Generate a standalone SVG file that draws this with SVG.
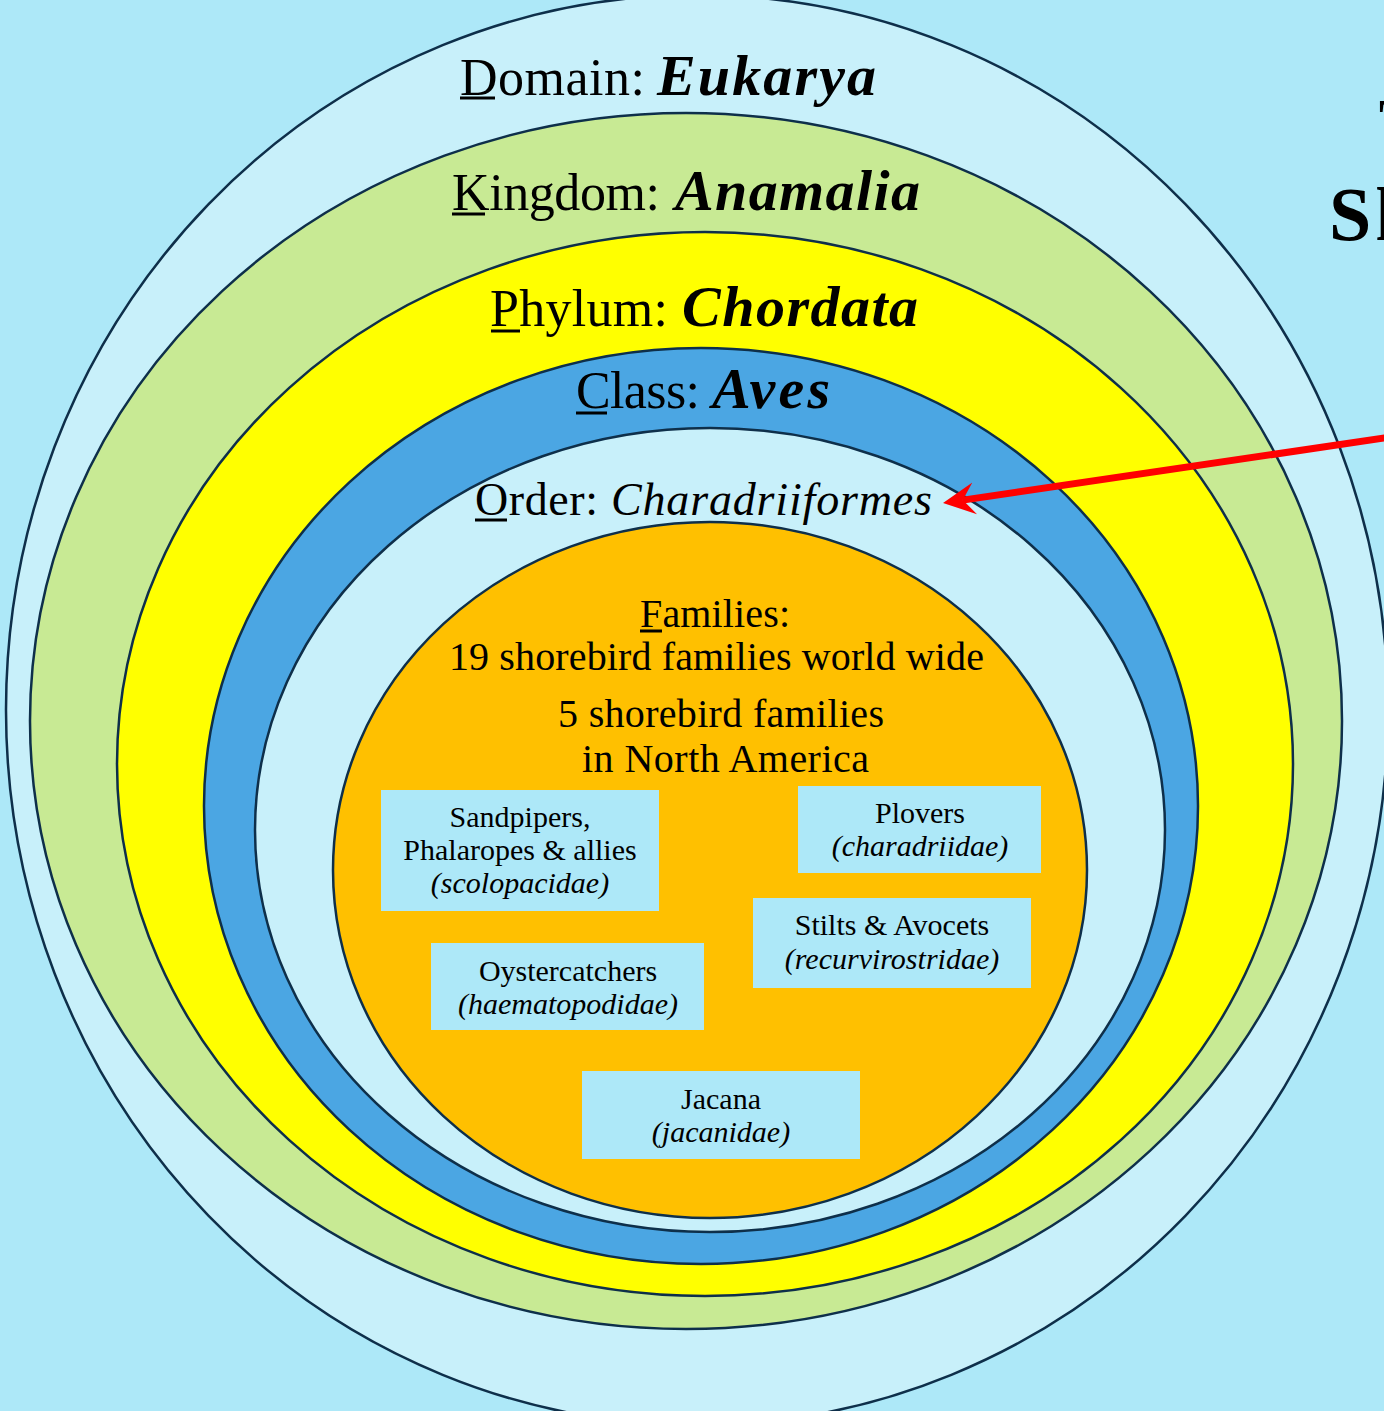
<svg xmlns="http://www.w3.org/2000/svg" width="1384" height="1411" viewBox="0 0 1384 1411">
<style>
.ring{stroke:#0E2F4A;stroke-width:2.5}
.t{font-family:"Liberation Serif","Times New Roman",serif;fill:#000}
.lab{font-size:52px}
.sci{font-size:58px;font-weight:bold;font-style:italic}
.fam{font-size:40px}
.box{fill:#ADE8F8}
.bt{font-family:"Liberation Serif","Times New Roman",serif;font-size:30px;text-anchor:middle;fill:#000}
.it{font-style:italic}
.ul{stroke:#000;stroke-width:3}
</style>
<defs>
<marker id="ah" markerUnits="userSpaceOnUse" markerWidth="34" markerHeight="34" viewBox="0 -17 34 34" refX="12" refY="0" orient="auto">
<path d="M0,-16 L32,0 L0,16 L12,0 Z" fill="#FF0000"/>
</marker>
</defs>
<rect x="0" y="0" width="1384" height="1411" fill="#ADE8F8"/>
<g id="domain">
<ellipse class="ring" cx="697" cy="710" rx="691" ry="715" fill="#C8F0FA"/>
<text class="t lab" x="460" y="95" textLength="185">Domain:</text>
<text class="t sci" x="657" y="95" textLength="219">Eukarya</text>
<line class="ul" x1="460" y1="98" x2="495" y2="98"/>
</g>
<g id="kingdom">
<ellipse class="ring" cx="686" cy="721" rx="656" ry="608" fill="#C8EA94"/>
<text class="t lab" x="452" y="210" textLength="208">Kingdom:</text>
<text class="t sci" x="675" y="210" textLength="245">Anamalia</text>
<line class="ul" x1="452" y1="214" x2="485" y2="214"/>
</g>
<g id="phylum">
<ellipse class="ring" cx="705" cy="764" rx="588" ry="532" fill="#FFFF00"/>
<text class="t lab" x="490" y="326" textLength="178">Phylum:</text>
<text class="t sci" x="682" y="326" textLength="236">Chordata</text>
<line class="ul" x1="491" y1="331" x2="520" y2="331"/>
</g>
<g id="class">
<ellipse class="ring" cx="701" cy="806" rx="497" ry="458" fill="#4BA6E3"/>
<text class="t lab" x="576" y="408" textLength="124">Class:</text>
<text class="t sci" x="712" y="408" textLength="118">Aves</text>
<line class="ul" x1="576" y1="413" x2="607" y2="413"/>
</g>
<g id="order">
<ellipse class="ring" cx="710" cy="830" rx="455" ry="402" fill="#C8F0FA"/>
<text class="t" x="475" y="515" font-size="46" textLength="123">Order:</text>
<text class="t it" x="611" y="515" font-size="46" textLength="321">Charadriiformes</text>
<line class="ul" x1="475" y1="520" x2="507" y2="520"/>
</g>
<g id="families">
<ellipse class="ring" cx="710" cy="870" rx="377" ry="348" fill="#FFC000"/>
<text class="t fam" x="640" y="627" textLength="150">Families:</text>
<line class="ul" x1="640" y1="631" x2="662" y2="631"/>
<text class="t fam" x="449" y="670" textLength="535">19 shorebird families world wide</text>
<text class="t fam" x="558" y="727" textLength="326">5 shorebird families</text>
<text class="t fam" x="582" y="772" textLength="287">in North America</text>
</g>
<g id="sandpipers">
<rect class="box" x="381" y="790" width="278" height="121"/>
<text class="bt" x="520" y="827">Sandpipers,</text>
<text class="bt" x="520" y="860">Phalaropes &amp; allies</text>
<text class="bt it" x="520" y="893">(scolopacidae)</text>
</g>
<g id="plovers">
<rect class="box" x="798" y="786" width="243" height="87"/>
<text class="bt" x="920" y="823">Plovers</text>
<text class="bt it" x="920" y="856">(charadriidae)</text>
</g>
<g id="stilts">
<rect class="box" x="753" y="898" width="278" height="90"/>
<text class="bt" x="892" y="935">Stilts &amp; Avocets</text>
<text class="bt it" x="892" y="969">(recurvirostridae)</text>
</g>
<g id="oystercatchers">
<rect class="box" x="431" y="943" width="273" height="87"/>
<text class="bt" x="568" y="981">Oystercatchers</text>
<text class="bt it" x="568" y="1014">(haematopodidae)</text>
</g>
<g id="jacana">
<rect class="box" x="582" y="1071" width="278" height="88"/>
<text class="bt" x="721" y="1109">Jacana</text>
<text class="bt it" x="721" y="1142">(jacanidae)</text>
</g>
<g id="title">
<text class="t" x="1379" y="140" font-size="60" font-weight="bold">T</text>
<text class="t" x="1329" y="240" font-size="76" font-weight="bold">S<tspan dx="4">h</tspan></text>
</g>
<g id="connectors">
<line x1="1400" y1="435.7" x2="962.8" y2="500.1" stroke="#FF0000" stroke-width="7" marker-end="url(#ah)"/>
</g>
</svg>
